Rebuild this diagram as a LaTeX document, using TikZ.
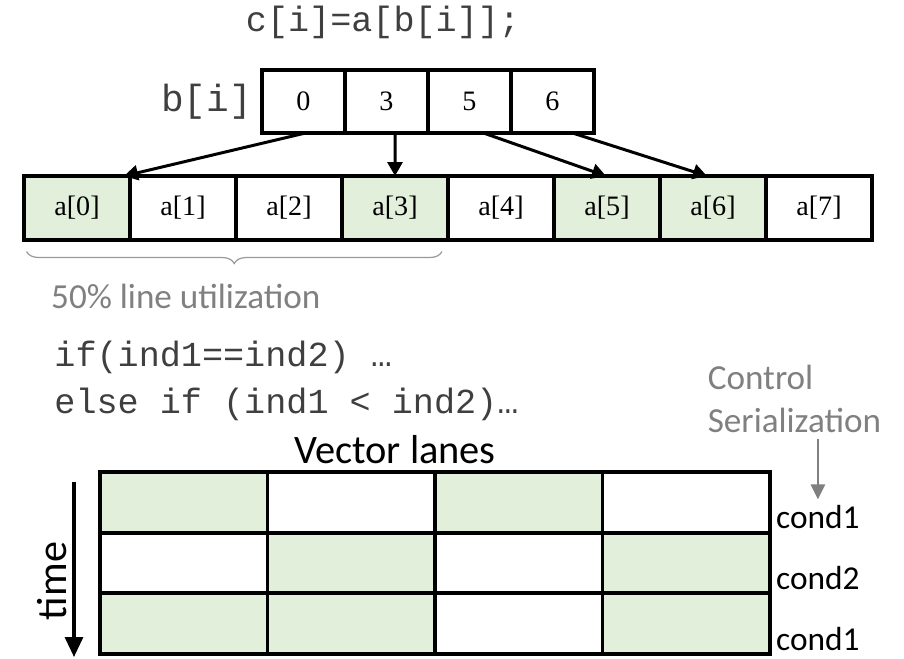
\documentclass[tikz,border=0pt]{standalone}
\usepackage{fontspec}
\setmainfont{Liberation Serif}
\setsansfont{Carlito}
\setmonofont{Liberation Mono}
\usetikzlibrary{arrows.meta, calc, positioning}
\usetikzlibrary{decorations.pathreplacing}
\definecolor{lanegreen}{HTML}{E2EFDA}
\definecolor{codegray}{HTML}{3F3F3F}
\definecolor{notegray}{HTML}{808080}

\begin{document}
\begin{tikzpicture}[
    bcell/.style={draw, line width=2pt, outer sep=0pt, inner sep=0pt,
        minimum width=1.66cm, minimum height=1.26cm, font=\fontsize{16}{18}\selectfont},
    acell/.style={draw, line width=2pt, outer sep=0pt, inner sep=0pt,
        minimum width=2.12cm, minimum height=1.28cm, font=\fontsize{16}{18}\selectfont},
    lane/.style={draw, line width=2.2pt, outer sep=0pt, inner sep=0pt,
        minimum width=3.35cm, minimum height=1.213cm},
    used/.style={fill=lanegreen},
    code/.style={text=codegray, font=\ttfamily\fontsize{20}{24}\selectfont},
    note/.style={text=notegray, font=\sffamily\fontsize{20}{24}\selectfont},
    cond/.style={font=\sffamily\fontsize{19}{22}\selectfont},
    idx/.style={-{Triangle[length=0.28cm,width=0.3cm]}, line width=1.7pt}
]
    \useasboundingbox (0,0) rectangle (18.08,-13.16);
    \coordinate (tTop) at (1.48,-9.64);
    \coordinate (tEnd) at (1.48,-13.14);

    % gather statement
    \node[code] (stmt) at (7.66,-0.44) {c[i]=a[b[i]];};

    % index vector b
    \node[bcell] (b0) at (6.07,-2.03) {0};
    \node[bcell, right=0pt of b0] (b1) {3};
    \node[bcell, right=0pt of b1] (b2) {5};
    \node[bcell, right=0pt of b2] (b3) {6};
    \draw[line width=2.6pt] (b0.north west) rectangle (b3.south east);
    \node[code, font=\ttfamily\fontsize{21.5}{24}\selectfont, left=0.08cm of b0] (blbl) {b[i]};

    % cache line of a
    \node[acell, used] (a0) at (1.54,-4.16) {a[0]};
    \node[acell, right=0pt of a0] (a1) {a[1]};
    \node[acell, right=0pt of a1] (a2) {a[2]};
    \node[acell, used, right=0pt of a2] (a3) {a[3]};
    \node[acell, right=0pt of a3] (a4) {a[4]};
    \node[acell, used, right=0pt of a4] (a5) {a[5]};
    \node[acell, used, right=0pt of a5] (a6) {a[6]};
    \node[acell, right=0pt of a6] (a7) {a[7]};
    \draw[line width=2.6pt] (a0.north west) rectangle (a7.south east);

    % gather arrows
    \draw[idx] ($(b0.south)+(0.04,0)$) -- ($(a0.north east)+(-0.12,0)$);
    \draw[idx] ($(b1.south)+(0.17,0)$) -- (a3.north);
    \draw[idx] ($(b2.south)+(0.28,0)$) -- ($(a5.north)+(-0.02,0)$);
    \draw[idx] ($(b3.south)+(0.4,0)$) -- ($(a6.north)+(-0.12,0)$);

    % utilization brace
    \draw[notegray!80, line width=0.7pt, decorate, decoration={brace, mirror, amplitude=0.24cm}]
        ($(a0.south west)+(0.05,-0.23)$) -- ($(a3.south east)+(-0.12,-0.23)$);
    \node[note, anchor=west] (util) at (0.9,-5.92) {50\% line utilization};

    % divergent branch
    \node[code, anchor=west] (if1) at (0.965,-7.14) {if(ind1==ind2) …};
    \node[code, anchor=west] (elif) at (0.965,-8.08) {else if (ind1 < ind2)…};
    \node[note, align=left] (ctrl) at (15.89,-7.98) {Control\\Serialization};
    \node[font=\sffamily\fontsize{23}{28}\selectfont] (vlanes) at (7.9,-9.0) {Vector lanes};

    % lanes over time
    \node[lane, used] (g11) at (3.675,-10.047) {};
    \node[lane, right=0pt of g11] (g12) {};
    \node[lane, used, right=0pt of g12] (g13) {};
    \node[lane, right=0pt of g13] (g14) {};
    \node[lane, below=0pt of g11] (g21) {};
    \node[lane, used, right=0pt of g21] (g22) {};
    \node[lane, right=0pt of g22] (g23) {};
    \node[lane, used, right=0pt of g23] (g24) {};
    \node[lane, used, below=0pt of g21] (g31) {};
    \node[lane, used, right=0pt of g31] (g32) {};
    \node[lane, right=0pt of g32] (g33) {};
    \node[lane, used, right=0pt of g33] (g34) {};
    \draw[line width=2.6pt] (g11.north west) rectangle (g34.south east);

    \node[cond, right=0pt of g14, yshift=-0.3cm] (c1) {cond1};
    \node[cond, right=0pt of g24, yshift=-0.3cm] (c2) {cond2};
    \node[cond, right=0pt of g34, yshift=-0.3cm] (c3) {cond1};
    \draw[notegray, line width=1.5pt, -{Triangle[length=0.3cm,width=0.28cm]}]
        (ctrl.south -| c1.north) -- (c1.north);

    % time axis
    \draw[line width=1.8pt, -{Triangle[length=0.4cm,width=0.36cm]}] (tTop) -- (tEnd);
    \node[rotate=90, font=\sffamily\fontsize{24}{28}\selectfont] (tlbl) at (1.04,-11.62) {time};
\end{tikzpicture}
\end{document}
